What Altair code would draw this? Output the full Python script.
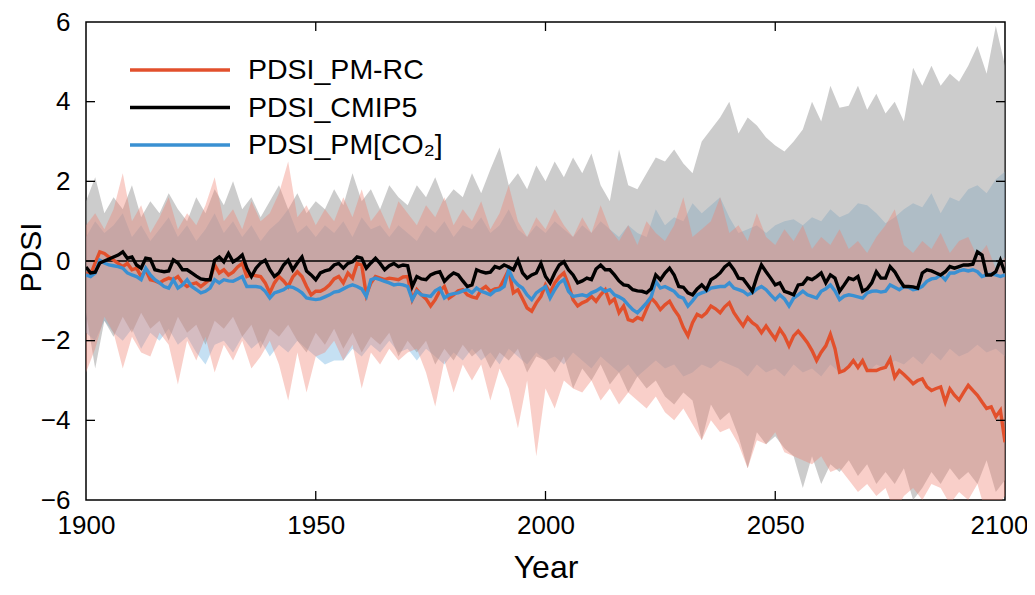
import altair as alt
import pandas as pd

# ---------------- data ----------------
years = list(range(1900, 2101))
band_years = list(range(1900, 2101, 2))

series_names = ["PDSI_PM-RC", "PDSI_CMIP5", "PDSI_PM[CO₂]"]
series_colors = ["#E2502C", "#000000", "#3A90D2"]

pm_rc = [
    -0.3, -0.35, -0.05, 0.23, 0.19, 0.1, 0.02, -0.06, -0.14, -0.06,
    -0.22, -0.18, -0.39, -0.22, -0.47, -0.5, -0.55, -0.48, -0.43, -0.47,
    -0.39, -0.55, -0.64, -0.58, -0.55, -0.64, -0.55, -0.45, -0.1, -0.3,
    -0.22, -0.35, -0.28, -0.15, -0.06, -0.39, -0.35, -0.37, -0.39, -0.55,
    -0.8, -0.55, -0.39, -0.5, -0.64, -0.4, -0.27, -0.39, -0.64, -0.85,
    -0.76, -0.76, -0.7, -0.6, -0.45, -0.39, -0.55, -0.3, -0.43, -0.06,
    -0.1, -0.85, -0.55, -0.39, -0.43, -0.47, -0.43, -0.45, -0.47, -0.4,
    -0.39, -0.97, -0.72, -0.85, -0.95, -1.13, -0.97, -0.75, -0.64, -0.93,
    -0.85, -0.75, -0.72, -0.85, -0.9, -0.93, -0.72, -0.64, -0.76, -0.7,
    -0.68, -0.45, -0.22, -0.8, -0.72, -0.95, -1.18, -1.26, -1.05, -0.89,
    -0.6, -0.8, -0.55, -0.4, -0.3, -0.6, -0.97, -1.13, -1.05, -1.0,
    -0.89, -1.01, -0.85, -0.72, -1.05, -0.95, -1.3, -1.13, -1.47, -1.51,
    -1.42, -1.47, -1.2, -0.93, -1.05, -1.22, -1.1, -1.01, -1.22, -1.38,
    -1.67, -1.88, -1.55, -1.34, -1.4, -1.3, -1.13, -1.2, -1.3, -1.15,
    -1.05, -1.3, -1.47, -1.63, -1.42, -1.55, -1.63, -1.8, -1.63, -1.8,
    -1.96, -1.71, -1.88, -2.13, -1.88, -1.76, -1.9, -2.05, -2.25, -2.5,
    -2.29, -2.13, -1.84, -2.2, -2.79, -2.75, -2.65, -2.5, -2.67, -2.5,
    -2.75, -2.75, -2.75, -2.7, -2.67, -2.46, -2.92, -2.75, -2.85, -2.96,
    -3.08, -3.0, -2.96, -3.16, -3.25, -3.2, -3.16, -3.54, -3.21, -3.37,
    -3.49, -3.3, -3.12, -3.25, -3.37, -3.54, -3.7, -3.66, -3.91, -3.75,
    -4.55,
]

cmip5 = [
    -0.15, -0.3, -0.28, -0.05, 0.0, 0.05, 0.1, 0.15, 0.23, 0.07,
    0.1, -0.1, -0.18, 0.07, 0.05, -0.22, -0.25, -0.27, -0.25, 0.03,
    -0.05, -0.22, -0.22, -0.3, -0.38, -0.45, -0.47, -0.47, 0.02, 0.1,
    -0.02, 0.19, -0.02, 0.05, 0.15, -0.18, -0.39, -0.18, -0.05, 0.02,
    -0.22, -0.39, -0.3, -0.1, 0.02, -0.22, -0.05, 0.1, -0.25, -0.35,
    -0.47, -0.3, -0.25, -0.22, -0.1, -0.06, -0.18, -0.06, -0.02, 0.1,
    0.07, -0.18, -0.05, 0.07, -0.06, -0.22, -0.12, -0.06, -0.14, -0.1,
    -0.12, -0.64, -0.39, -0.45, -0.47, -0.35, -0.3, -0.27, -0.51, -0.39,
    -0.3, -0.35, -0.5, -0.64, -0.6, -0.22, -0.27, -0.3, -0.28, -0.14,
    -0.18, -0.1, -0.15, -0.22, 0.02, -0.3, -0.43, -0.35, -0.3, -0.06,
    -0.39, -0.55, -0.3, -0.1, -0.02, -0.22, -0.35, -0.55, -0.5, -0.43,
    -0.47, -0.2, -0.1, -0.22, -0.22, -0.35, -0.5, -0.6, -0.62, -0.72,
    -0.75, -0.76, -0.8, -0.7, -0.35, -0.47, -0.3, -0.18, -0.35, -0.64,
    -0.66, -0.8, -0.85, -0.7, -0.6, -0.72, -0.47, -0.4, -0.3, -0.15,
    -0.06, -0.22, -0.43, -0.45, -0.6, -0.76, -0.4, -0.1, -0.27, -0.43,
    -0.6, -0.55, -0.76, -0.8, -0.85, -0.6, -0.58, -0.43, -0.47, -0.39,
    -0.3, -0.55, -0.35, -0.43, -0.76, -0.6, -0.43, -0.47, -0.39, -0.76,
    -0.7, -0.55, -0.27, -0.43, -0.43, -0.14, -0.27, -0.47, -0.64, -0.64,
    -0.65, -0.68, -0.3, -0.22, -0.25, -0.3, -0.35, -0.27, -0.14, -0.18,
    -0.14, -0.1, -0.1, -0.08, 0.23, 0.15, -0.35, -0.35, -0.27, 0.02,
    -0.3,
]

pm_co2 = [
    -0.35, -0.39, -0.3, 0.02, -0.05, -0.1, -0.12, -0.14, -0.18, -0.3,
    -0.35, -0.39, -0.47, -0.18, -0.35, -0.47, -0.55, -0.64, -0.68, -0.47,
    -0.68, -0.6, -0.47, -0.64, -0.72, -0.8, -0.76, -0.68, -0.47, -0.55,
    -0.47, -0.5, -0.51, -0.45, -0.39, -0.64, -0.64, -0.64, -0.66, -0.76,
    -0.93, -0.8, -0.76, -0.72, -0.64, -0.66, -0.72, -0.8, -0.93, -0.95,
    -0.97, -0.95, -0.9, -0.85, -0.78, -0.76, -0.7, -0.64, -0.6, -0.64,
    -0.7, -0.89, -0.47, -0.43, -0.47, -0.51, -0.55, -0.6, -0.58, -0.6,
    -0.64, -0.97, -0.76, -0.85, -0.87, -0.89, -0.75, -0.68, -0.93, -0.85,
    -0.82, -0.8, -0.75, -0.72, -0.8, -0.68, -0.76, -0.8, -0.85, -0.75,
    -0.72, -0.64, -0.22, -0.47, -0.6, -0.68, -0.85, -0.97, -0.8, -0.72,
    -0.64, -0.93, -0.72, -0.55, -0.47, -0.76, -0.89, -0.87, -0.85, -0.88,
    -0.8, -0.75, -0.68, -0.76, -0.72, -0.85, -0.9, -0.97, -1.1, -1.22,
    -1.3, -1.18, -1.05, -0.9, -0.51, -0.68, -0.64, -0.7, -0.76, -0.89,
    -0.93, -1.13, -1.0, -0.85, -0.8, -0.76, -0.68, -0.66, -0.64, -0.64,
    -0.55, -0.68, -0.72, -0.76, -0.85, -0.8, -0.7, -0.64, -0.72, -0.85,
    -0.97, -0.85, -0.95, -1.13, -0.93, -0.85, -0.76, -0.85, -0.89, -0.93,
    -0.76, -0.7, -0.6, -0.75, -0.97, -0.88, -0.85, -0.87, -0.9, -0.93,
    -0.8, -0.76, -0.75, -0.78, -0.76, -0.6, -0.66, -0.72, -0.64, -0.66,
    -0.72, -0.7, -0.64, -0.51, -0.45, -0.43, -0.35, -0.47, -0.3, -0.3,
    -0.25, -0.22, -0.25, -0.22, -0.27, -0.39, -0.35, -0.33, -0.35, -0.39,
    -0.35,
]

# uncertainty ranges (every second year)
cmip5_hi = [
    1.5, 2.1, 1.2, 1.6, 1.3, 1.9, 1.1, 1.5, 1.2, 1.7,
    1.3, 1.0, 1.6, 1.2, 1.8, 1.4, 2.0, 1.3, 1.6, 1.1,
    1.5, 1.9, 1.3, 1.7, 1.2, 1.5, 1.3, 1.8, 1.4, 2.2,
    1.5, 1.8, 1.3, 1.9, 1.6, 1.4, 1.9, 1.6, 2.1, 1.5,
    1.8, 1.6, 2.2, 1.7, 2.3, 2.85, 1.9, 2.2, 1.8, 2.4,
    2.0, 2.5, 2.1, 2.6, 2.2, 2.7, 1.9, 1.5, 2.8, 1.9,
    1.8, 2.2, 2.6, 2.5, 2.8, 2.45, 2.2, 3.0, 3.3, 3.6,
    4.0, 3.2, 3.6, 3.4, 3.1, 2.9, 2.75, 3.0, 3.3, 4.0,
    3.5, 4.4, 3.85, 3.9, 4.4, 3.8, 4.2, 3.7, 4.0, 3.5,
    4.85, 4.4, 4.9, 4.4, 4.7, 4.5, 4.9, 5.4, 4.7, 5.9,
    4.9,
]
cmip5_lo = [
    -1.3, -2.7, -1.5, -1.9, -1.4, -1.8, -1.3, -1.7, -1.5, -2.0,
    -1.4, -1.8, -1.6, -2.1, -1.5, -1.7, -1.4, -1.9, -1.6, -2.2,
    -1.7, -1.9, -1.6, -2.0, -2.3, -1.8, -2.1, -1.7, -2.2, -1.8,
    -2.3, -1.9, -2.1, -1.8, -2.4, -2.0, -2.3, -2.0, -2.6, -2.2,
    -2.5, -2.1, -2.4, -2.2, -2.7, -2.3, -2.5, -2.2, -2.8, -2.4,
    -2.5, -2.8, -2.4, -3.2, -2.7, -3.0, -2.6, -3.1, -2.8, -3.3,
    -2.9, -3.2, -3.0, -3.4, -3.6, -3.3, -3.5, -4.5, -3.6, -4.0,
    -3.8, -4.4, -5.2, -4.3, -4.6, -4.4, -4.7, -4.9, -5.7, -4.9,
    -5.6, -5.1, -5.3, -5.0, -5.4, -5.1, -5.6, -5.3, -5.6, -5.2,
    -6.0, -5.7, -5.3, -5.6, -5.2, -5.5, -5.3, -5.6, -5.0, -5.8,
    -5.5,
]
pm_rc_hi = [
    0.9, 1.2, 0.8, 1.3, 2.2, 1.0, 1.4, 0.7, 1.1, 1.6,
    0.8, 1.2, 0.9, 1.4, 2.1, 1.0, 1.3, 0.8, 1.5, 1.0,
    1.2, 1.7, 2.5, 1.1, 1.4, 0.9, 1.3, 1.0, 1.6, 1.1,
    1.8, 1.0, 1.3, 0.8, 1.5, 1.2, 0.9, 1.4, 1.1, 1.6,
    0.9, 1.3, 1.0, 1.5, 0.8, 1.2, 1.9, 1.0, 0.6, 1.1,
    0.8, 1.3, 0.9, 0.6, 1.1, 0.7, 1.4, 0.8, 0.5, 0.9,
    0.4, 1.0, 0.7, 0.5, 0.9, 1.6, 0.6, 0.8, 1.0, 1.6,
    0.7, 0.9, 0.5, 1.2, 0.6, 0.4, 0.8, 0.5, 0.9, 0.3,
    0.6, 0.4, 0.8, 0.3, 0.5, 0.2, 0.6, 0.9, 1.3, 0.4,
    0.2, 0.5, 0.3, 0.7, 0.2, 0.5, 0.6, 0.1, 0.4, -0.2,
    0.1,
]
pm_rc_lo = [
    -2.8, -2.2, -1.4, -1.8, -2.7, -1.9, -2.3, -2.4, -1.8, -2.1,
    -3.1, -2.0, -2.5, -1.9, -2.8, -2.1, -2.5, -2.0, -2.7, -2.4,
    -2.0, -2.6, -3.5, -2.3, -3.3, -2.4, -2.3, -2.0, -2.5, -2.1,
    -3.2, -2.3, -2.6, -2.2, -2.5, -2.3, -2.2, -2.8, -3.65, -2.5,
    -3.3, -2.6, -3.0, -2.6, -3.5, -2.7, -3.2, -4.2, -3.0, -4.9,
    -3.2, -3.7, -3.0, -3.2, -3.3, -3.0, -3.5, -3.2, -3.6, -3.3,
    -3.5, -3.7, -3.4, -3.8, -4.0, -3.7, -4.1, -4.5, -4.0, -4.3,
    -4.2, -4.6, -5.2, -4.5, -4.6, -4.3, -4.8, -4.9, -5.0, -5.1,
    -4.9, -5.3, -5.2, -5.5, -5.8, -5.6, -5.9, -5.7, -6.3, -5.9,
    -5.7, -6.0, -5.6, -5.7, -6.1, -5.8, -6.0, -5.6, -6.4, -6.2,
    -5.9,
]
pm_co2_hi = [
    0.6, 1.0, 0.7, 0.9, 1.2, 0.6, 0.9, 0.5, 0.8, 1.1,
    0.6, 0.9, 0.5, 0.8, 1.2, 0.7, 1.0, 0.6, 0.9, 0.5,
    0.8, 1.0, 1.3, 0.7, 0.9, 0.6, 0.9, 0.7, 1.0, 0.6,
    1.1, 0.8, 0.9, 0.6, 0.9, 0.7, 0.5, 0.9, 0.7, 1.0,
    0.6, 0.9, 0.8, 1.1, 0.7, 0.9, 1.3, 0.8, 0.6, 0.9,
    0.7, 1.0, 0.8, 0.6, 0.9, 0.7, 1.0, 0.8, 0.6, 0.9,
    0.7, 0.6, 1.3, 0.9, 1.1, 1.0, 1.45, 1.2, 1.4, 1.6,
    1.1, 0.7, 0.8, 0.9, 0.7, 0.9, 1.0, 1.05, 0.9, 1.1,
    1.0, 1.3, 1.1, 1.2, 1.45, 1.4, 1.2, 0.95, 1.1, 1.3,
    1.45, 1.35, 1.7, 1.2, 1.6, 1.5, 1.8, 1.9, 1.7, 2.05,
    2.25,
]
pm_co2_lo = [
    -1.8, -2.0, -1.5, -1.8, -2.0, -1.7, -2.2, -1.8, -2.0, -1.7,
    -2.1, -1.9, -2.3, -2.6, -2.1, -2.0, -2.3, -1.9, -2.2, -2.0,
    -2.4, -2.1, -2.3, -2.0, -2.2, -2.4, -2.6, -2.5, -2.5, -2.2,
    -2.4, -2.1, -2.3, -2.0, -2.3, -2.2, -2.5, -2.2, -2.4, -2.6,
    -2.3, -2.5, -2.2, -2.5, -2.3, -2.6, -2.2, -2.4, -2.6, -2.3,
    -2.5, -2.4, -2.6, -2.3, -2.5, -2.7, -2.4, -2.6, -2.8, -2.6,
    -2.9, -2.7, -2.5, -2.7, -2.6, -2.9, -2.8, -2.6, -2.7, -2.5,
    -2.6, -2.7, -2.9, -2.6, -2.8, -2.7, -2.9, -2.6, -2.8, -2.7,
    -2.9, -2.6, -2.8, -2.7, -2.5, -2.8, -2.6, -2.7, -2.5, -2.6,
    -2.4, -2.6, -2.3, -2.5, -2.2, -2.4, -2.3, -2.1, -2.3, -2.2,
    -2.4,
]

x_ticks = [1900, 1950, 2000, 2050, 2100]
y_ticks = [-6, -4, -2, 0, 2, 4, 6]

# ---------------- tables ----------------
lines_df = pd.concat([
    pd.DataFrame({"year": years, "value": pm_rc, "series": series_names[0]}),
    pd.DataFrame({"year": years, "value": pm_co2, "series": series_names[2]}),
    pd.DataFrame({"year": years, "value": cmip5, "series": series_names[1]}),
], ignore_index=True)


def band(lo, hi):
    return pd.DataFrame({"year": band_years, "lo": lo, "hi": hi})


W, H = 919, 478
FONT = "Liberation Sans"

xscale = alt.Scale(domain=[1900, 2100], nice=False, zero=False)
yscale = alt.Scale(domain=[-6, 6], nice=False, zero=False)
xaxis = alt.Axis(values=x_ticks, format="d", title="Year", grid=False, domain=False,
                 ticks=False, labelFlush=False, labelFontSize=26, labelFont=FONT,
                 labelColor="#000", labelPadding=12,
                 labelOffset={"condition": {"test": "datum.value == 2100", "value": -6},
                              "value": 0},
                 titleFontSize=32, titleFont=FONT,
                 titleFontWeight="normal", titleColor="#000", titleY=77,
                 titleBaseline="alphabetic")
yaxis = alt.Axis(values=y_ticks, format="d", title="PDSI", grid=False, domain=False,
                 ticks=False, labelFlush=False, labelFontSize=26, labelFont=FONT,
                 labelColor="#000", labelPadding=16, titleFontSize=30, titleFont=FONT,
                 titleFontWeight="normal", titleColor="#000", titleX=-55, titleY=H / 2 - 4,
                 titleBaseline="middle", titleAngle=-90)


def X(field):
    return alt.X(field, type="quantitative", scale=xscale, axis=xaxis)


def Y(field):
    return alt.Y(field, type="quantitative", scale=yscale, axis=yaxis)


def band_layer(df, color, opacity):
    return alt.Chart(df).mark_area(clip=True, color=color, opacity=opacity,
                                   interpolate="linear").encode(
        x=X("year"), y=Y("lo"), y2="hi")


blue_band = band_layer(band(pm_co2_lo, pm_co2_hi), "#5AA5DC", 0.35)
gray_band = band_layer(band(cmip5_lo, cmip5_hi), "#999999", 0.5)
red_band = band_layer(band(pm_rc_lo, pm_rc_hi), "#F08070", 0.38)

zero_line = alt.Chart(pd.DataFrame({"z": [0]})).mark_rule(
    color="#000", strokeWidth=1.3).encode(y=Y("z"))

lines = alt.Chart(lines_df).mark_line(strokeWidth=3.4, clip=True).encode(
    x=X("year"), y=Y("value"),
    color=alt.Color("series:N",
                    scale=alt.Scale(domain=series_names, range=series_colors),
                    sort=series_names,
                    legend=alt.Legend(orient="none", legendX=42, legendY=33, title=None,
                                      direction="vertical", symbolType="stroke",
                                      symbolSize=10000, symbolStrokeWidth=3.5,
                                      clipHeight=30, rowPadding=7.5, padding=0,
                                      labelFontSize=28.5, labelFont=FONT, labelColor="#000",
                                      labelOffset=16, labelLimit=400)),
)

xt = pd.DataFrame({"t": x_ticks[1:-1]})
yt = pd.DataFrame({"t": y_ticks[1:-1]})
tick_style = dict(color="#000", strokeWidth=1.3)
xt_bottom = alt.Chart(xt).mark_rule(**tick_style).encode(
    x=X("t"), y=alt.value(H), y2=alt.value(H - 9))
xt_top = alt.Chart(xt).mark_rule(**tick_style).encode(
    x=X("t"), y=alt.value(0), y2=alt.value(9))
yt_left = alt.Chart(yt).mark_rule(**tick_style).encode(
    y=Y("t"), x=alt.value(0), x2=alt.value(9))
yt_right = alt.Chart(yt).mark_rule(**tick_style).encode(
    y=Y("t"), x=alt.value(W), x2=alt.value(W - 9))

chart = alt.layer(
    blue_band, gray_band, red_band, zero_line, lines,
    xt_bottom, xt_top, yt_left, yt_right,
).properties(
    width=W, height=H,
    padding={"left": 78, "top": 14, "right": 22, "bottom": 86},
    autosize=alt.AutoSizeParams(type="none"),
    background="white",
).configure_view(
    stroke="#000", strokeWidth=1.5,
)

chart.save("out.html", embed_options={"renderer": "svg", "actions": False})
